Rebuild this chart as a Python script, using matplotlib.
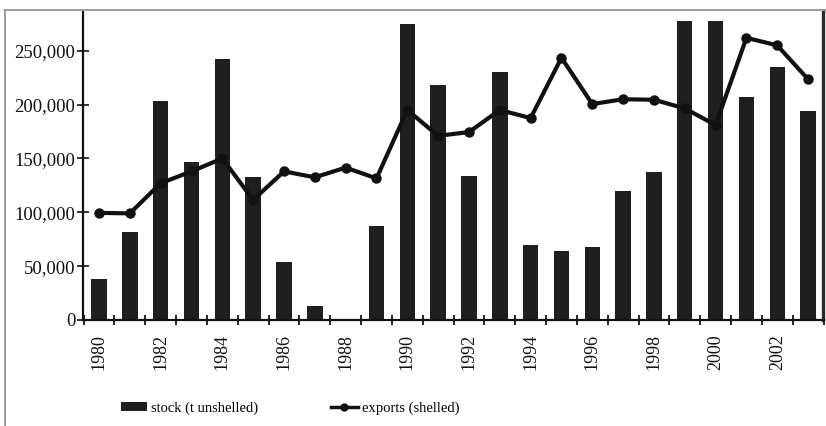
#!/usr/bin/env python
# Stock vs exports, 1980-2003: bars for stock (t unshelled), line for exports (shelled).
import numpy as np
import matplotlib
matplotlib.use("Agg")
import matplotlib.pyplot as plt
from matplotlib.lines import Line2D
from matplotlib.patches import Patch
from matplotlib.ticker import StrMethodFormatter

YEARS = list(range(1980, 2004))
STOCK = [38000, 81500, 203000, 147000, 242500, 133000, 54000, 13000, 0, 87000,
         275000, 218000, 134000, 230000, 69500, 64500, 67500, 120000, 137500,
         278000, 278000, 207500, 234500, 194500]
EXPORTS = [99500, 99000, 127000, 138000, 150000, 111500, 138000, 132500, 141500,
           131500, 195000, 171000, 174500, 195000, 187500, 243500, 200500, 205000,
           204500, 196500, 181000, 262000, 255000, 223500]
YTICKS = [0, 50000, 100000, 150000, 200000, 250000]

INK = "#111111"; BAR = "#1f1f1f"; FRAME = "#8c8c8c"
SERIF = ["Liberation Serif", "DejaVu Serif"]

plt.rcParams["font.family"] = SERIF

fig = plt.figure(figsize=(8.26, 4.26), dpi=100)
ax = fig.add_axes([83 / 826, 1 - 320 / 426, (823.5 - 83) / 826, (320 - 12) / 426])

x = np.arange(len(YEARS))
ax.bar(x, STOCK, width=0.5, color=BAR, zorder=2)
ax.plot(x, EXPORTS, color=INK, lw=3, marker="o", ms=6.5, zorder=3)

ax.set_xlim(-0.52, 23.42)
ax.set_ylim(0, 286000)

ax.set_yticks(YTICKS)
ax.yaxis.set_major_formatter(StrMethodFormatter("{x:,.0f}"))
ax.tick_params(axis="y", direction="inout", length=9, width=1.2, pad=1,
               labelsize=13.5, colors=INK)

ax.set_xticks(x[::2])
ax.set_xticklabels([str(y) for y in YEARS[::2]], rotation=90)
ax.set_xticks(np.arange(len(YEARS) + 1) - 0.5, minor=True)
ax.tick_params(axis="x", which="major", length=0, pad=10, labelsize=13, colors=INK)
ax.tick_params(axis="x", which="minor", direction="inout", length=7, width=1.2)

for side in ("left", "bottom"):
    ax.spines[side].set_linewidth(1.6)
    ax.spines[side].set_color(INK)
ax.spines["top"].set_visible(False)
ax.spines["right"].set_linewidth(2.4)
ax.spines["right"].set_color("#2a2a2a")

# outer frame of the scanned figure
fig.add_artist(Line2D([5 / 826, 1], [1 - 10 / 426] * 2, color=FRAME, lw=1.2))
fig.add_artist(Line2D([5 / 826] * 2, [0, 1 - 10 / 426], color=FRAME, lw=1.2))

handles = [Patch(facecolor=BAR, edgecolor="none"),
           Line2D([], [], color=INK, lw=2.5, marker="o", ms=5)]
fig.legend(handles, ["stock (t unshelled)", "exports (shelled)"], ncol=2,
           loc="center", bbox_to_anchor=(290 / 826, 1 - 408 / 426), frameon=False,
           fontsize=10.5, handlelength=1.8, handleheight=0.6, handletextpad=0.3,
           columnspacing=5.0)

fig.savefig("out.png", dpi=100)
